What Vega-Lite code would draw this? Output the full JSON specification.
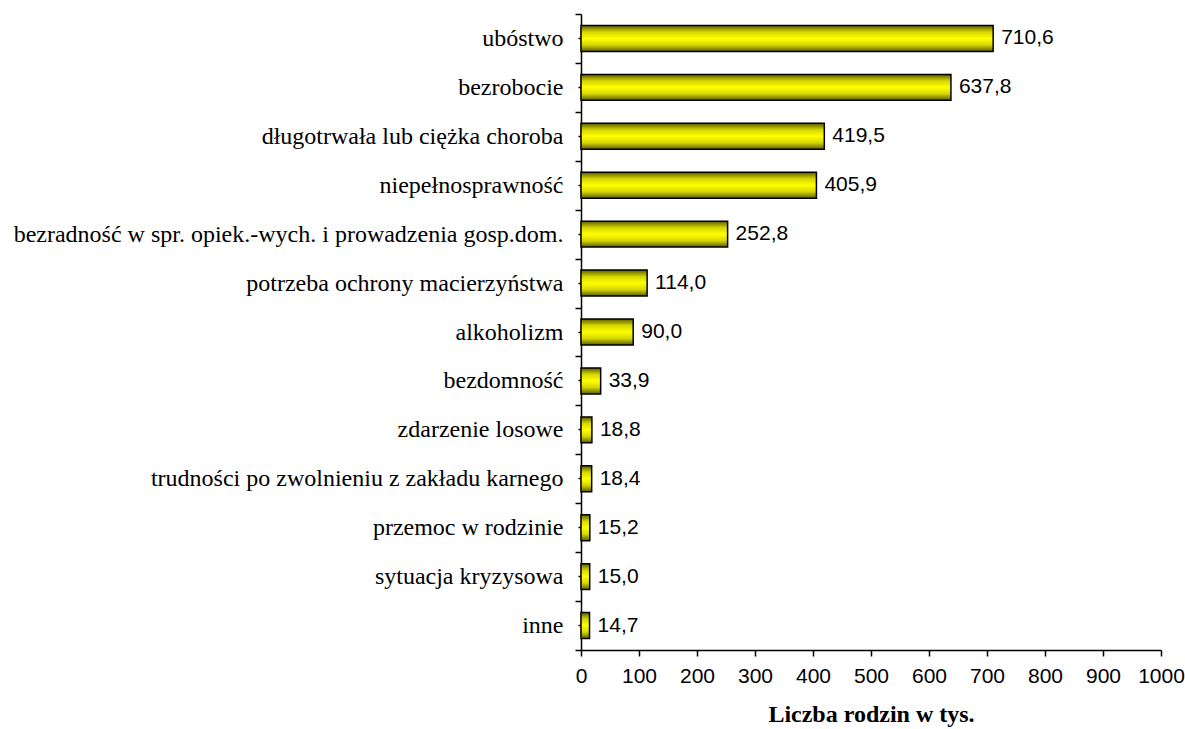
{
  "$schema": "https://vega.github.io/schema/vega-lite/v6.json",
  "width": 580,
  "height": 636,
  "autosize": {"type": "none"},
  "padding": {"left": 581, "top": 14, "right": 24, "bottom": 79},
  "background": "white",
  "config": {
    "view": {"stroke": null},
    "locale": {"number": {"decimal": ",", "thousands": " ", "grouping": [3], "currency": ["", " zł"]}}
  },
  "data": {
    "values": [
      {"cat": "ubóstwo", "v": 710.6},
      {"cat": "bezrobocie", "v": 637.8},
      {"cat": "długotrwała lub ciężka choroba", "v": 419.5},
      {"cat": "niepełnosprawność", "v": 405.9},
      {"cat": "bezradność w spr. opiek.-wych. i prowadzenia gosp.dom.", "v": 252.8},
      {"cat": "potrzeba ochrony macierzyństwa", "v": 114.0},
      {"cat": "alkoholizm", "v": 90.0},
      {"cat": "bezdomność", "v": 33.9},
      {"cat": "zdarzenie losowe", "v": 18.8},
      {"cat": "trudności po zwolnieniu z zakładu karnego", "v": 18.4},
      {"cat": "przemoc w rodzinie", "v": 15.2},
      {"cat": "sytuacja kryzysowa", "v": 15.0},
      {"cat": "inne", "v": 14.7}
    ]
  },
  "encoding": {
    "y": {"field": "cat", "type": "nominal", "sort": null,
      "scale": {"paddingInner": 0, "paddingOuter": 0}},
    "x": {"field": "v", "type": "quantitative", "scale": {"domain": [0, 1000], "nice": false}}
  },
  "layer": [
    {
      "mark": {
        "type": "bar",
        "height": {"band": 0.53},
        "stroke": "black",
        "strokeWidth": 1.5,
        "color": {
          "gradient": "linear", "x1": 0, "y1": 0, "x2": 0, "y2": 1,
          "stops": [
            {"offset": 0, "color": "#5c5c00"},
            {"offset": 0.25, "color": "#d6d600"},
            {"offset": 0.5, "color": "#ffff00"},
            {"offset": 0.75, "color": "#d6d600"},
            {"offset": 1, "color": "#5c5c00"}
          ]
        }
      },
      "encoding": {
        "y": {"field": "cat", "type": "nominal", "sort": null, "title": null,
          "axis": {"orient": "left", "tickBand": "extent", "tickSize": 6, "tickColor": "black", "tickWidth": 1.5,
            "domainColor": "black", "domainWidth": 1.5, "labelFont": "Liberation Serif", "labelFontSize": 24,
            "labelColor": "black", "labelPadding": 12, "labelLimit": 700}},
        "x": {"field": "v", "type": "quantitative", "title": "Liczba rodzin w tys.",
          "axis": {"values": [0,100,200,300,400,500,600,700,800,900,1000], "format": "d", "grid": false,
            "tickSize": 6, "tickColor": "black", "tickWidth": 1.5, "domainColor": "black", "domainWidth": 1.5,
            "labelFont": "Liberation Sans", "labelFontSize": 21, "labelColor": "black", "labelPadding": 9,
            "titleFont": "Liberation Serif", "titleFontSize": 24, "titleFontWeight": "bold", "titleColor": "black",
            "titlePadding": 16, "labelFlush": false}}
      }
    },
    {
      "mark": {"type": "text", "align": "left", "baseline": "middle", "dx": 8, "font": "Liberation Sans", "fontSize": 21, "color": "black"},
      "encoding": {
        "text": {"field": "v", "type": "quantitative", "format": ".1f"},
        "y": {"field": "cat", "type": "nominal", "sort": null, "title": null,
          "axis": {"orient": "left", "tickBand": "center", "tickSize": 3, "tickColor": "black", "tickWidth": 1.5,
            "domain": false, "labels": false, "title": null}}
      }
    }
  ],
  "resolve": {"axis": {"y": "independent"}}
}
